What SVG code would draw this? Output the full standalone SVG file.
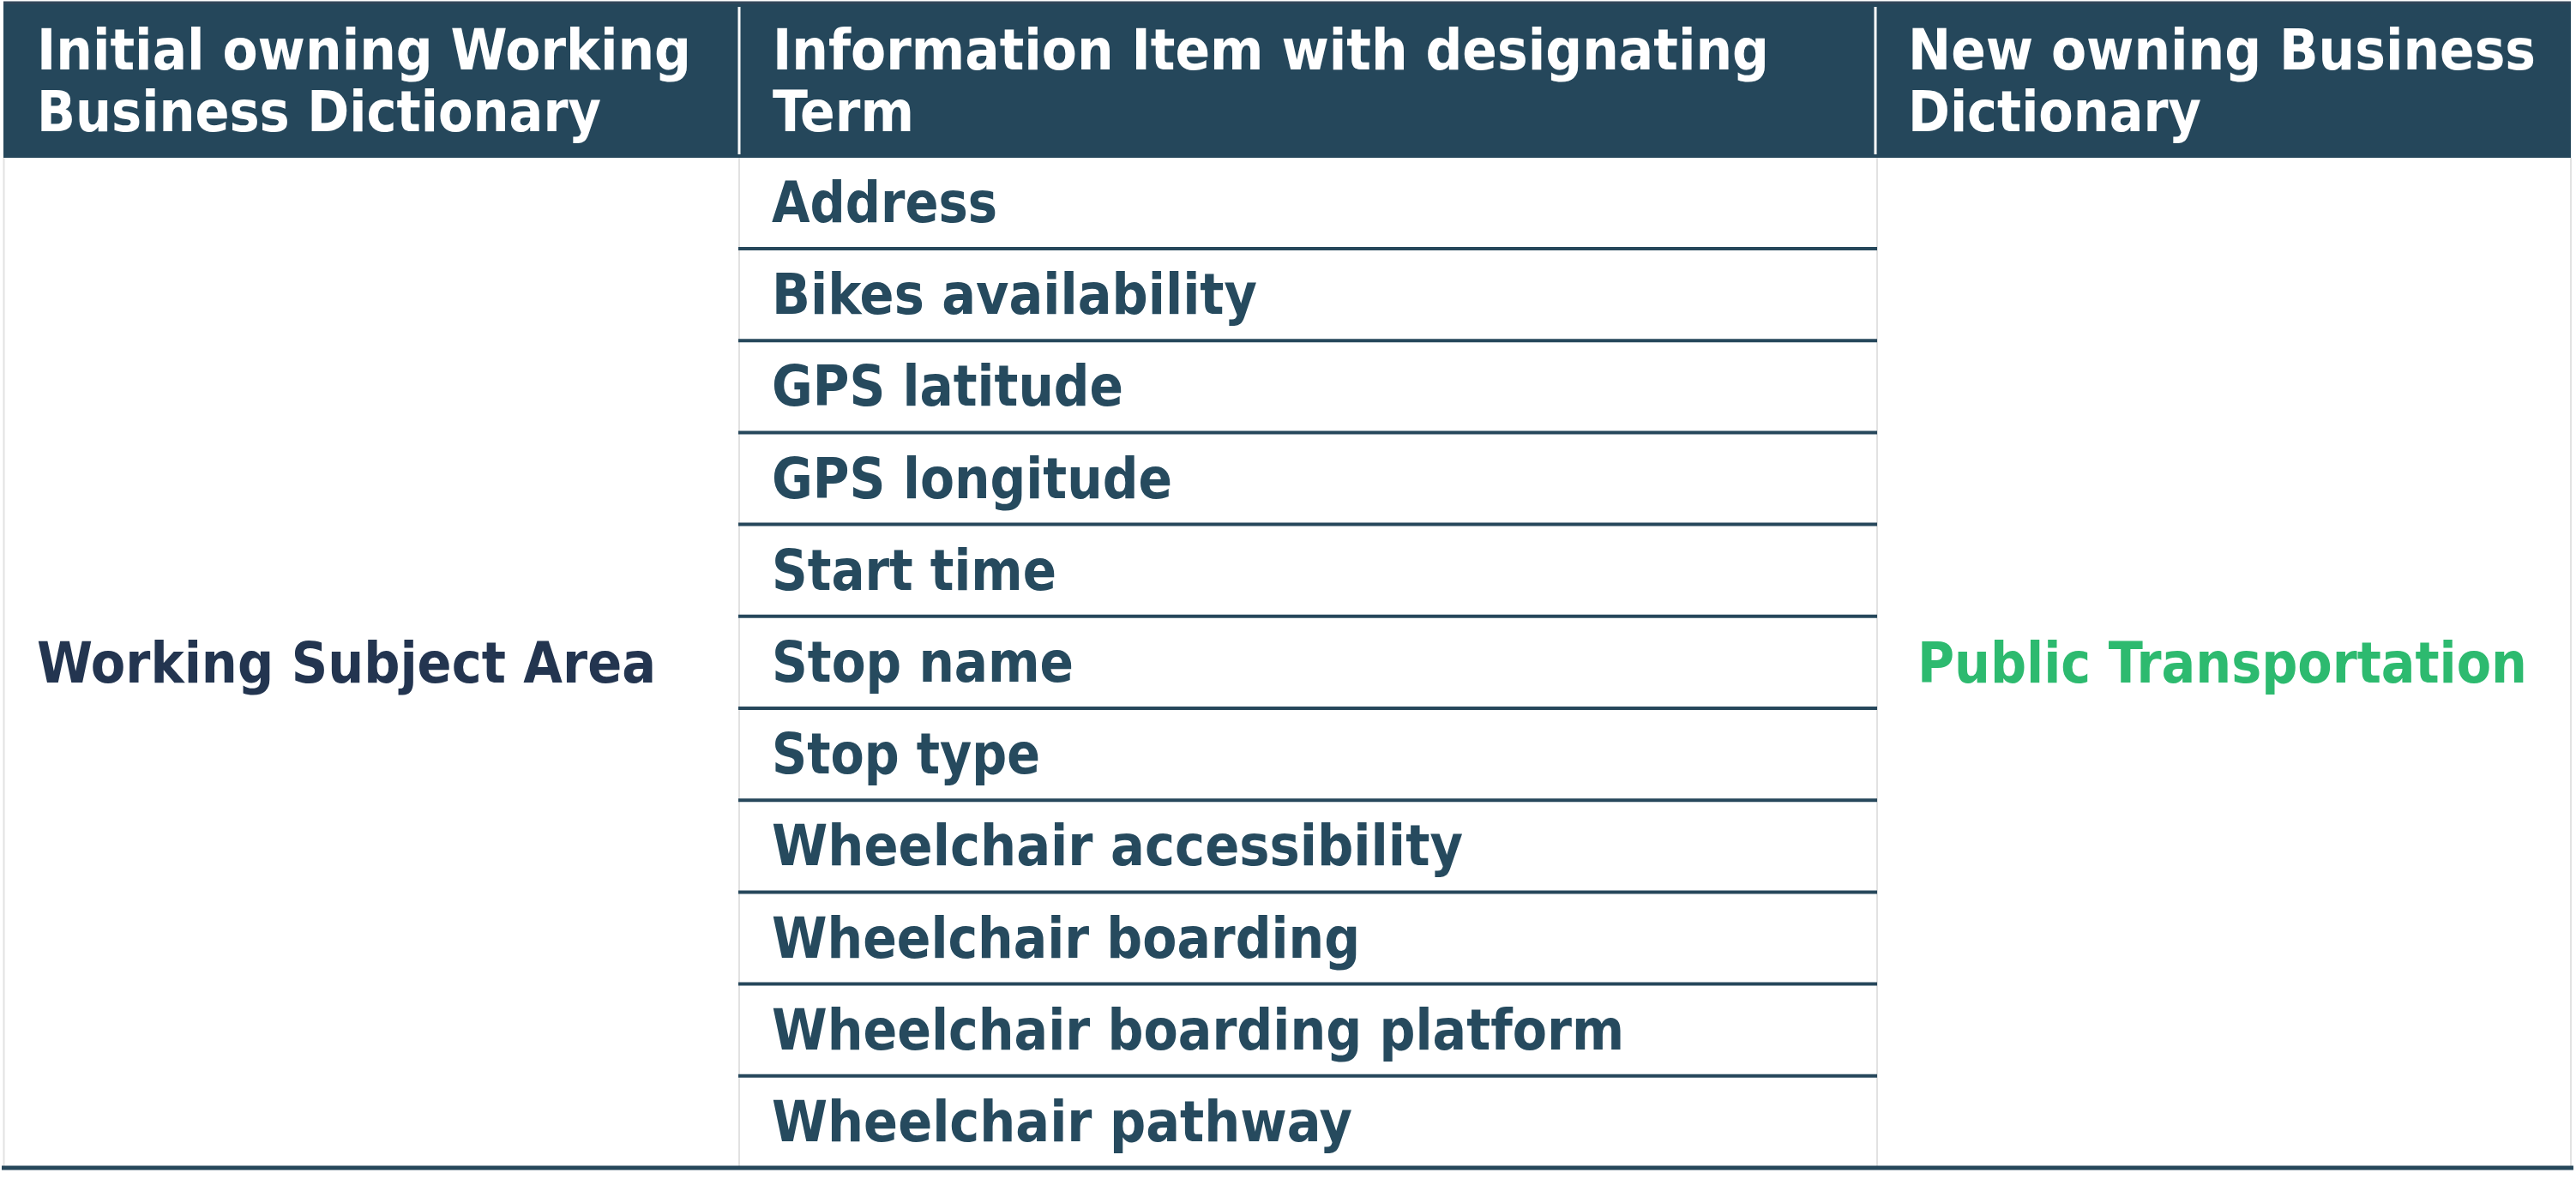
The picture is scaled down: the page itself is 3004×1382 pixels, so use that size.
<svg xmlns="http://www.w3.org/2000/svg" width="3004" height="1382" viewBox="0 0 3004 1382">
<style>
  text { font-family: "DejaVu Sans Condensed", "DejaVu Sans", "Liberation Sans", sans-serif; font-weight: bold; font-size: 65px; }
  .hd { fill: #ffffff; }
  .it { fill: #264a5e; }
  .wk { fill: #233550; }
  .pt { fill: #2dba6f; }
  .rule { stroke: #26475b; stroke-width: 4; }
  .grid { stroke: #e2e2e2; stroke-width: 2; }
</style>
<rect x="0" y="0" width="3004" height="1382" fill="#ffffff"/>
<g id="header">
  <rect x="4" y="3" width="2994" height="181" fill="#25475b"/>
  <line x1="4" y1="3" x2="2998" y2="3" stroke="#33475a" stroke-width="3"/>
  <line x1="862" y1="8" x2="862" y2="180" stroke="#ffffff" stroke-width="3"/>
  <line x1="2187" y1="8" x2="2187" y2="180" stroke="#ffffff" stroke-width="3"/>
  <text class="hd" x="43" y="81" textLength="763" lengthAdjust="spacingAndGlyphs">Initial owning Working</text>
  <text class="hd" x="43" y="153" textLength="658" lengthAdjust="spacingAndGlyphs">Business Dictionary</text>
  <text class="hd" x="901" y="81" textLength="1162" lengthAdjust="spacingAndGlyphs">Information Item with designating</text>
  <text class="hd" x="901" y="153" textLength="165" lengthAdjust="spacingAndGlyphs">Term</text>
  <text class="hd" x="2225" y="81" textLength="732" lengthAdjust="spacingAndGlyphs">New owning Business</text>
  <text class="hd" x="2225" y="153" textLength="342" lengthAdjust="spacingAndGlyphs">Dictionary</text>
</g>
<g id="grid">
  <line class="grid" x1="4.5" y1="184" x2="4.5" y2="1360"/>
  <line class="grid" x1="862" y1="184" x2="862" y2="1360"/>
  <line class="grid" x1="2189" y1="184" x2="2189" y2="1360"/>
  <line class="grid" x1="2998" y1="184" x2="2998" y2="1360"/>
</g>
<g id="rules">
  <line class="rule" x1="861" y1="290" x2="2189" y2="290"/>
  <line class="rule" x1="861" y1="397.2" x2="2189" y2="397.2"/>
  <line class="rule" x1="861" y1="504.4" x2="2189" y2="504.4"/>
  <line class="rule" x1="861" y1="611.6" x2="2189" y2="611.6"/>
  <line class="rule" x1="861" y1="718.8" x2="2189" y2="718.8"/>
  <line class="rule" x1="861" y1="826" x2="2189" y2="826"/>
  <line class="rule" x1="861" y1="933.2" x2="2189" y2="933.2"/>
  <line class="rule" x1="861" y1="1040.4" x2="2189" y2="1040.4"/>
  <line class="rule" x1="861" y1="1147.6" x2="2189" y2="1147.6"/>
  <line class="rule" x1="861" y1="1254.8" x2="2189" y2="1254.8"/>
  <line x1="2" y1="1362" x2="3001" y2="1362" stroke="#26475b" stroke-width="5"/>
</g>
<g id="owner-initial">
  <text class="wk" x="43" y="796" textLength="722" lengthAdjust="spacingAndGlyphs">Working Subject Area</text>
</g>
<g id="items">
  <text class="it" x="900" y="259" textLength="263" lengthAdjust="spacingAndGlyphs">Address</text>
  <text class="it" x="900" y="366.2" textLength="566" lengthAdjust="spacingAndGlyphs">Bikes availability</text>
  <text class="it" x="900" y="473.4" textLength="410" lengthAdjust="spacingAndGlyphs">GPS latitude</text>
  <text class="it" x="900" y="580.6" textLength="467" lengthAdjust="spacingAndGlyphs">GPS longitude</text>
  <text class="it" x="900" y="687.8" textLength="332" lengthAdjust="spacingAndGlyphs">Start time</text>
  <text class="it" x="900" y="795" textLength="352" lengthAdjust="spacingAndGlyphs">Stop name</text>
  <text class="it" x="900" y="902.2" textLength="313" lengthAdjust="spacingAndGlyphs">Stop type</text>
  <text class="it" x="900" y="1009.4" textLength="806" lengthAdjust="spacingAndGlyphs">Wheelchair accessibility</text>
  <text class="it" x="900" y="1116.6" textLength="686" lengthAdjust="spacingAndGlyphs">Wheelchair boarding</text>
  <text class="it" x="900" y="1223.8" textLength="994" lengthAdjust="spacingAndGlyphs">Wheelchair boarding platform</text>
  <text class="it" x="900" y="1331" textLength="677" lengthAdjust="spacingAndGlyphs">Wheelchair pathway</text>
</g>
<g id="owner-new">
  <text class="pt" x="2236" y="796" textLength="711" lengthAdjust="spacingAndGlyphs">Public Transportation</text>
</g>
</svg>
